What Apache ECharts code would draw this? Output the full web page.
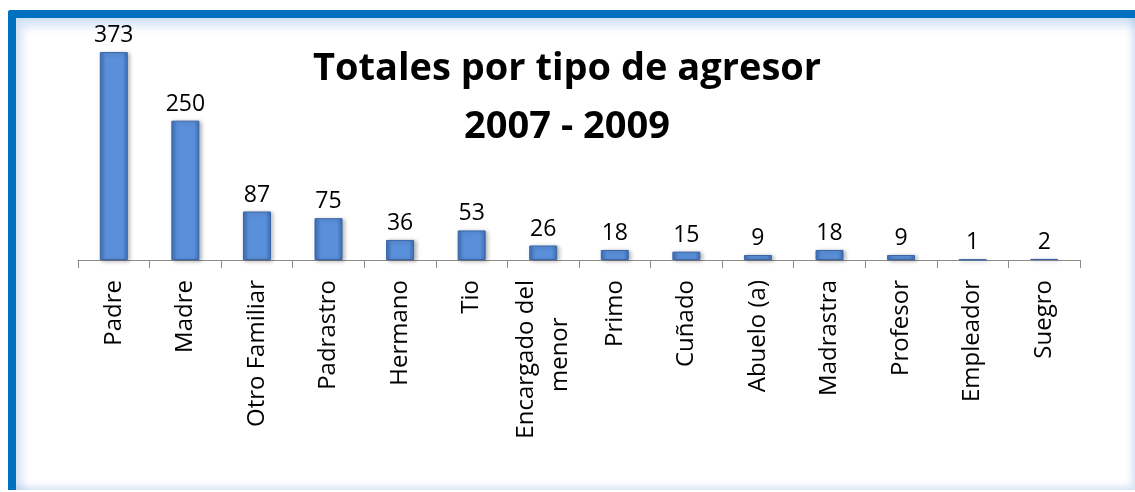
<!DOCTYPE html>
<html>
<head>
<meta charset="utf-8">
<script src="https://cdn.jsdelivr.net/npm/echarts@6/dist/echarts.min.js"></script>
<style>
    html, body { margin: 0; padding: 0; background: #fff; }
    .marco {
        position: absolute; left: 8px; top: 10px; width: 1119px; height: 472px;
        border-top: 8px solid #0070c0; border-left: 8px solid #0070c0;
        border-radius: 3px 0 0 0;
        box-shadow: inset 6px 8px 10px rgba(80,140,210,0.25), inset -4px -4px 6px rgba(80,140,210,0.2);
    }
    #agresorID { position: absolute; left: 0; top: 0; width: 1135px; height: 492px; }
</style>
</head>
<body>
<div class="marco"></div>
<div id="agresorID"></div>
<script>
// categorias y valores del grafico
var categorias = ['Padre', 'Madre', 'Otro Familiar', 'Padrastro', 'Hermano', 'Tio',
    'Encargado del\nmenor', 'Primo', 'Cuñado', 'Abuelo (a)', 'Madrastra', 'Profesor',
    'Empleador', 'Suegro'];
var totales = [373, 250, 87, 75, 36, 53, 26, 18, 15, 9, 18, 9, 1, 2];

var fuente = 'Open Sans';
var chart = echarts.init(document.getElementById('agresorID'));

var option = {
    animation: false,
    title: {
        text: 'Totales por tipo de agresor\n2007 - 2009',
        left: 562,
        top: 35,
        textAlign: 'center',
        textStyle: { fontFamily: fuente, fontWeight: 'bold', fontSize: 38, lineHeight: 58, color: '#000' }
    },
    grid: { left: 78, right: 55, top: 37, height: 223 },
    xAxis: {
        type: 'category',
        data: categorias,
        axisLine: { lineStyle: { color: '#8c8c8c', width: 1 } },
        axisTick: { show: true, length: 8, lineStyle: { color: '#8c8c8c' } },
        axisLabel: {
            rotate: 90, margin: 20, fontFamily: fuente, fontSize: 24, color: '#000',
            interval: 0, lineHeight: 34,
            // centrar la segunda linea como en Excel
            formatter: function (v) {
                var partes = v.split('\n');
                if (partes.length < 2) return v;
                return partes[0] + '\n' + partes[1] + '\u00a0\u00a0\u00a0\u00a0\u00a0\u00a0';
            }
        }
    },
    yAxis: {
        type: 'value', min: 0, max: 400,
        show: false,
        splitLine: { show: false }
    },
    series: [{
        type: 'bar',
        data: totales,
        barWidth: 28,
        itemStyle: {
            color: new echarts.graphic.LinearGradient(0, 0, 1, 0, [
                { offset: 0, color: '#3d6fb8' },
                { offset: 0.2, color: '#5a90da' },
                { offset: 0.8, color: '#5a90da' },
                { offset: 1, color: '#3d6fb8' }
            ]),
            borderColor: '#3a65a8',
            borderWidth: 1,
            shadowColor: 'rgba(0,0,0,0.3)',
            shadowBlur: 4,
            shadowOffsetX: 2,
            shadowOffsetY: 1
        },
        label: {
            show: true, position: 'top', distance: 5,
            fontFamily: fuente, fontSize: 23, color: '#000'
        }
    }]
};

chart.setOption(option);
</script>
</body>
</html>
